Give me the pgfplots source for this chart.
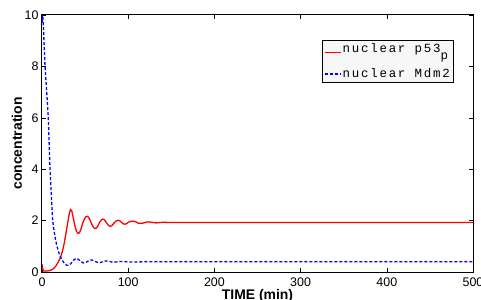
\documentclass[border=0pt]{standalone}
\usepackage{fontspec}
\setmainfont{Liberation Sans}
\newfontfamily\legendfont[LetterSpace=14]{Liberation Mono}
\usepackage{pgfplots}
\pgfplotsset{compat=1.18}
\usetikzlibrary{calc}

\begin{document}
\begin{tikzpicture}
\begin{axis}[
  scale only axis, width=431bp, height=257bp,
  xmin=0, xmax=500, ymin=0, ymax=10,
  xtick={0,100,...,500}, ytick={0,2,...,10},
  tick align=inside, major tick length=4bp,
  tick style={black, line width=0.6bp},
  axis line style={line width=1bp},
  tick label style={font=\fontsize{12.5}{14}\selectfont},
  xticklabel style={yshift=-2bp},
  /pgf/number format/assume math mode=true,
  xlabel={\textbf{TIME (min)}}, ylabel={\textbf{concentration}},
  label style={font=\fontsize{14}{16}\selectfont},
  xlabel style={at={(axis description cs:0.5,-0.066)}, anchor=north, inner sep=0pt},
  ylabel style={at={(axis description cs:-0.058,0.5)}, anchor=center, inner sep=0pt},
  legend cell align=left,
  legend style={at={(axis description cs:0.9536,0.9027)}, anchor=north east,
    draw=black, fill=gray!6, font=\legendfont\fontsize{12.5}{14}\selectfont,
    inner xsep=2bp, inner ysep=2bp, row sep=11.7bp, column sep=0bp,
    nodes={inner sep=1bp, text height=9bp, text depth=2.3bp}},
]
\addplot[color=red, line width=1.3bp,
  legend image code/.code={\draw[red, line width=1.4bp] (0bp,-3.5bp) -- (16bp,-3.5bp);}] coordinates {
(0,0.3) (0.5,0.22) (1,0.1) (2,0.04) (4,0.035) (6,0.04) (8,0.05) (10,0.07) (12,0.1) (14,0.15) (16,0.23) (18,0.34) (20,0.47) (22,0.62) (24,0.85) (26,1.15) (28,1.55) (30,1.95) (31.5,2.25) (33,2.43) (34.5,2.38) (36,2.15) (38,1.82) (40,1.58) (42,1.5) (43.5,1.53) (45,1.65) (47,1.88) (49,2.05) (51,2.15) (52.5,2.17) (54,2.13) (56,2.0) (58,1.84) (60,1.73) (61.5,1.69) (63,1.71) (65,1.8) (67,1.94) (69,2.03) (70.5,2.06) (72,2.04) (74,1.96) (76,1.86) (78,1.79) (79.5,1.78) (81,1.8) (83,1.88) (85,1.96) (87,2.0) (88.5,2.01) (90,2.0) (92,1.94) (94,1.88) (96,1.86) (98,1.88) (100,1.93) (103,1.97) (106,1.98) (109,1.95) (112,1.9) (115,1.89) (118,1.91) (121,1.94) (124,1.95) (128,1.93) (132,1.91) (136,1.92) (140,1.935) (145,1.93) (150,1.925) (160,1.93) (180,1.93) (200,1.93) (300,1.93) (400,1.93) (500,1.93)
};
\addlegendentry{nuclear p53\raisebox{-7bp}{p}}
\addplot[color=blue, line width=1.3bp, dash pattern=on 3bp off 2bp,
  legend image code/.code={\draw[blue, line width=1.4bp, dash pattern=on 3bp off 2bp] (0bp,0bp) -- (16bp,0bp);}] coordinates {
(0,9.7) (0.8,10) (1.6,9.6) (2.5,8.8) (3.5,8) (5.5,7) (7.3,6) (8.3,5) (9.3,4) (10.5,3.2) (12.4,2) (14,1.6) (15.5,1.3) (17,1.05) (19,0.8) (21,0.62) (23,0.48) (25,0.38) (27,0.3) (29,0.26) (31,0.26) (33,0.31) (35,0.39) (37,0.47) (39,0.52) (41,0.52) (43,0.47) (45,0.41) (48,0.35) (51,0.37) (54,0.44) (57,0.47) (60,0.44) (63,0.39) (66,0.36) (69,0.38) (72,0.42) (75,0.43) (78,0.41) (82,0.38) (86,0.39) (90,0.41) (95,0.41) (100,0.39) (110,0.39) (120,0.4) (150,0.4) (200,0.4) (300,0.4) (400,0.4) (500,0.4)
};
\addlegendentry{nuclear Mdm2}
\end{axis}
\pgfresetboundingbox
\path[use as bounding box] ($(current axis.south west)+(-42bp,-27bp)$) rectangle ($(current axis.north east)+(8bp,15bp)$);
\end{tikzpicture}
\end{document}
